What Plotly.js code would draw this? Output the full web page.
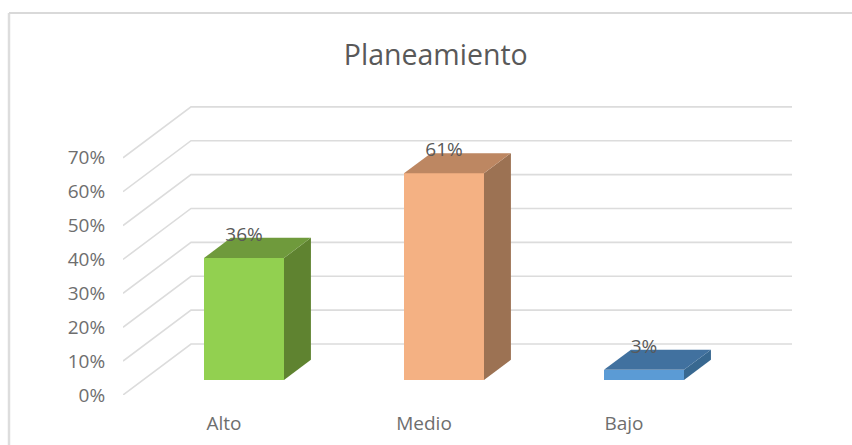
<!DOCTYPE html>
<html><head><meta charset="utf-8">
<script src="https://cdn.plot.ly/plotly-3.0.1.min.js"></script>
<style>html,body{margin:0;padding:0;background:#fff}#c{width:852px;height:445px}</style></head>
<body><div id="c"></div>
<script>
const chartTitle = 'Planeamiento';
const categories = ['Alto', 'Medio', 'Bajo'];
const values = [36, 61, 3];
const tickValues = [0, 10, 20, 30, 40, 50, 60, 70];
const frontColors = ['#92D050', '#F4B183', '#5B9BD5'];
const topColors = ['#6F9A3C', '#BD8762', '#41719F'];
const sideColors = ['#5F8330', '#9C7253', '#386890'];

// pixel layout of the plot area
const W = 852, H = 445, L = 123, R = 792, T = 100, B = 395;
const xMin = -0.505, xMax = 2.84, yMax = 87.07;
const ux = (R - L) / (xMax - xMin), uy = (B - T) / yMax;
// oblique depth vector of the floor, in axis units
const depthX = 68 / ux, depthY = 51 / uy;
const dFront = 0.294, dBack = 0.69, halfW = 0.2;
const px = (x, d) => x + d * depthX, py = (y, d) => y + d * depthY;

const traces = [];
const xs = categories.map((_, i) => i);
// side and top faces
xs.forEach((c, i) => {
  const xr = c + halfW, xl = c - halfW, v = values[i];
  traces.push({type: 'scatter', mode: 'lines', fill: 'toself', fillcolor: sideColors[i], hoverinfo: 'skip', showlegend: false,
    line: {width: 0, color: sideColors[i]},
    x: [px(xr, dFront), px(xr, dBack), px(xr, dBack), px(xr, dFront), px(xr, dFront)],
    y: [py(0, dFront), py(0, dBack), py(v, dBack), py(v, dFront), py(0, dFront)]});
  traces.push({type: 'scatter', mode: 'lines', fill: 'toself', fillcolor: topColors[i], hoverinfo: 'skip', showlegend: false,
    line: {width: 0, color: topColors[i]},
    x: [px(xl, dFront), px(xl, dBack), px(xr, dBack), px(xr, dFront), px(xl, dFront)],
    y: [py(v, dFront), py(v, dBack), py(v, dBack), py(v, dFront), py(v, dFront)]});
});
// front faces
traces.push({type: 'bar', showlegend: false, hoverinfo: 'skip',
  x: xs.map(c => px(c, dFront)), y: values, base: values.map(() => py(0, dFront)),
  width: 2 * halfW, marker: {color: frontColors, line: {width: 0}}});
// data labels
traces.push({type: 'scatter', mode: 'text', showlegend: false, hoverinfo: 'skip',
  x: xs.map(c => px(c, dFront)), y: values.map(v => py(v, dFront) + 22 / uy),
  text: values.map(v => v + '%'), textposition: 'middle center',
  textfont: {family: 'Open Sans, sans-serif', size: 19, color: '#595959'}, cliponaxis: false});

// gridlines: front-left -> back-left -> back-right, beneath every mark
const gridShapes = tickValues.map(t => ({
  type: 'path', xref: 'x', yref: 'y', layer: 'below',
  path: `M ${xMin} ${t} L ${px(xMin, 1)} ${py(t, 1)} L ${xMax} ${py(t, 1)}`,
  line: {color: '#DCDCDC', width: 1.6}
}));

const layout = {
  width: W, height: H, margin: {l: L, r: W - R, t: T, b: H - B},
  paper_bgcolor: '#fff', plot_bgcolor: 'rgba(0,0,0,0)', showlegend: false,
  title: {text: chartTitle, x: 0.5115, xanchor: 'center', y: 0.876, yanchor: 'middle',
    font: {family: 'Open Sans, sans-serif', size: 28.5, color: '#595959'}},
  xaxis: {range: [xMin, xMax], tickmode: 'array', tickvals: xs, ticktext: categories,
    showgrid: false, zeroline: false, showline: false, ticks: 'outside', ticklen: 11, tickcolor: 'rgba(0,0,0,0)',
    tickfont: {family: 'Open Sans, sans-serif', size: 19, color: '#6E6E6E'}},
  yaxis: {range: [0, yMax], tickmode: 'array', tickvals: tickValues, ticktext: tickValues.map(t => t + '%'),
    showgrid: false, zeroline: false, showline: false, ticks: 'outside', ticklen: 13, tickcolor: 'rgba(0,0,0,0)',
    tickfont: {family: 'Open Sans, sans-serif', size: 19, color: '#6E6E6E'}},
  bargap: 0,
  shapes: gridShapes.concat([
    {type: 'line', xref: 'paper', yref: 'paper', x0: (9 - L) / (R - L), x1: (9 - L) / (R - L), y0: (B - H) / (B - T), y1: (B - 13) / (B - T), line: {color: '#DDDDDD', width: 2.5}},
    {type: 'line', xref: 'paper', yref: 'paper', x0: (9 - L) / (R - L), x1: (W - L) / (R - L), y0: (B - 13) / (B - T), y1: (B - 13) / (B - T), line: {color: '#D9D9D9', width: 2}}
  ])
};
Plotly.newPlot('c', traces, layout, {displayModeBar: false, staticPlot: true});
</script></body></html>
